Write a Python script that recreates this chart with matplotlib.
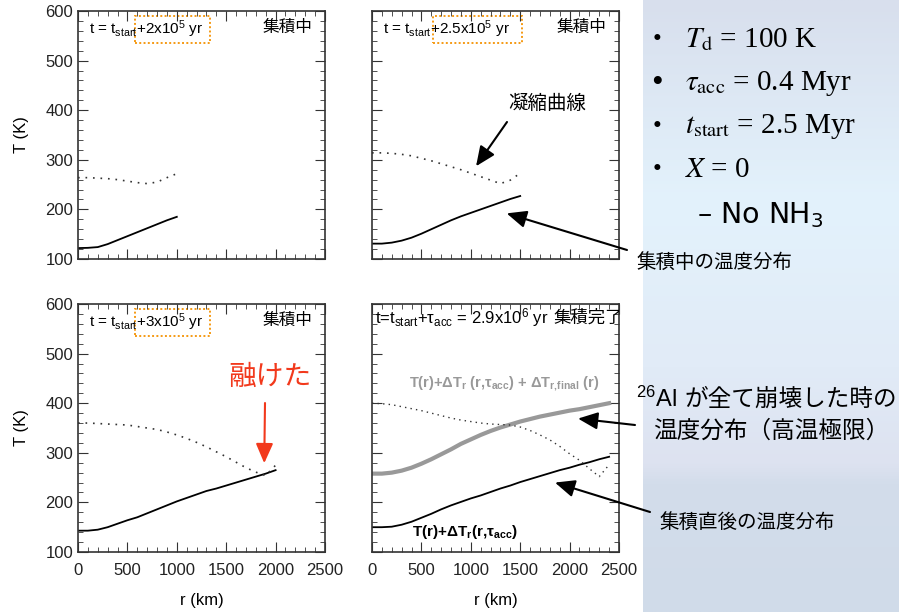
import numpy as np
import matplotlib
matplotlib.use('Agg')
import matplotlib.pyplot as plt
from matplotlib.colors import LinearSegmentedColormap
from matplotlib.patches import Rectangle
from matplotlib.ticker import MultipleLocator

plt.rcParams['font.family'] = ['Liberation Sans', 'Noto Sans CJK JP']
plt.rcParams['mathtext.fontset'] = 'custom'
plt.rcParams['mathtext.rm'] = 'Liberation Sans'
plt.rcParams['mathtext.it'] = 'Liberation Sans:italic'
plt.rcParams['mathtext.bf'] = 'Liberation Sans:bold'

W, H = 899, 612

# temperature profiles T(r) in K, radius in km
r_a = [0, 100, 200, 300, 400, 500, 600, 700, 800, 900, 1000]
temp_a = [122, 122.5, 124, 130, 138, 146, 154, 162, 170, 178, 185]
cond_a = [264, 264, 263, 262, 260, 257, 254, 252, 255, 264, 272]

r_b = [0, 100, 200, 300, 400, 500, 600, 700, 800, 900, 1000, 1100, 1200, 1300, 1400, 1500]
temp_b = [131, 131, 133, 137, 143, 151, 160, 169, 178, 186, 193, 200, 207, 214, 221, 227]
cond_b = [314, 314, 313, 311, 308, 303, 298, 292, 286, 280, 273, 266, 259, 252, 259, 273]

r_c = [0, 100, 200, 300, 400, 500, 600, 700, 800, 900, 1000, 1100, 1200, 1300, 1400,
       1500, 1600, 1700, 1800, 1900, 2000]
temp_c = [143, 143, 145, 150, 157, 164, 170, 178, 186, 194, 202, 209, 216, 223, 228,
          234, 240, 246, 252, 258, 265]
cond_c = [360, 360, 359, 358, 357, 356, 353, 350, 347, 342, 336, 329, 321, 312, 302,
          292, 281, 270, 261, 254, 275]

r_d = [0, 100, 200, 300, 400, 500, 600, 700, 800, 900, 1000, 1100, 1200, 1300, 1400,
       1500, 1600, 1700, 1800, 1900, 2000, 2100, 2200, 2300, 2400]
temp_d = [150, 150, 151, 155, 161, 169, 177, 186, 194, 201, 208, 214, 221, 228, 234,
          241, 247, 253, 259, 265, 270, 276, 281, 287, 292]
temp_d_final = [258, 258, 260, 264, 270, 278, 287, 297, 307, 318, 327, 336, 344, 351, 357,
                363, 368, 373, 377, 381, 385, 388, 392, 396, 400]
cond_d = [400, 399, 397, 393, 389, 385, 380, 375, 370, 366, 363, 360, 358, 357, 356,
          352, 345, 336, 326, 313, 298, 285, 268, 252, 276]

time_labels = [r't = t$_{\mathrm{start}}$+2x10$^5$ yr',
               r't = t$_{\mathrm{start}}$+2.5x10$^5$ yr',
               r't = t$_{\mathrm{start}}$+3x10$^5$ yr',
               r't=t$_{\mathrm{start}}$+τ$_{\mathrm{acc}}$ = 2.9x10$^6$ yr']


def fx(x):
    return x / W


def fy(y):
    return 1 - y / H


fig = plt.figure(figsize=(W / 100, H / 100), dpi=100)

# light blue backdrop on the right
bg = fig.add_axes([fx(643), 0, 1 - fx(643), 1], zorder=0)
grad_cmap = LinearSegmentedColormap.from_list('bg', [
    (0.0, '#d8dfed'), (0.33, '#e3f2fc'), (0.6, '#e1ebf7'), (0.76, '#dde2f0'),
    (0.79, '#d3ddeb'), (1.0, '#d0dbe9')])
bg.imshow(np.linspace(0, 1, 256)[:, None], aspect='auto', cmap=grad_cmap,
          extent=[0, 1, 1, 0])
bg.set_axis_off()


def make_axes(left, top):
    ax = fig.add_axes([fx(left), fy(top + 248), 247 / W, 248 / H], zorder=2)
    ax.set_xlim(0, 2500)
    ax.set_ylim(100, 600)
    ax.xaxis.set_major_locator(MultipleLocator(500))
    ax.xaxis.set_minor_locator(MultipleLocator(100))
    ax.yaxis.set_major_locator(MultipleLocator(100))
    ax.yaxis.set_minor_locator(MultipleLocator(20))
    ax.tick_params(which='both', direction='in', top=True, right=True,
                   labelsize=12, colors='#333333', labelcolor='#222222')
    ax.tick_params(which='major', length=7, width=0.8)
    ax.tick_params(which='minor', length=3.5, width=0.6)
    for s in ax.spines.values():
        s.set_linewidth(1.2)
        s.set_color('#333333')
    return ax


ax_a = make_axes(78, 11)
ax_b = make_axes(372, 11)
ax_c = make_axes(78, 304)
ax_d = make_axes(372, 304)

for ax in (ax_a, ax_b):
    ax.tick_params(labelbottom=False)
for ax in (ax_b, ax_d):
    ax.tick_params(labelleft=False)
for ax in (ax_a, ax_c):
    ax.set_ylabel('T (K)', fontsize=12, labelpad=12)
for ax in (ax_c, ax_d):
    ax.set_xlabel('r (km)', fontsize=12, labelpad=11)
    ax.tick_params(axis='x', pad=8)

dots = (0, (1, 3.5))
ax_a.plot(r_a, temp_a, color='k', lw=1.3)
ax_a.plot(r_a, cond_a, color='#333333', lw=1.2, linestyle=dots)
ax_b.plot(r_b, temp_b, color='k', lw=1.3)
ax_b.plot(r_b, cond_b, color='#333333', lw=1.2, linestyle=dots)
ax_c.plot(r_c, temp_c, color='k', lw=1.3)
ax_c.plot(r_c, cond_c, color='#333333', lw=1.2, linestyle=dots)
ax_d.plot(r_d, temp_d_final, color='#999999', lw=3)
ax_d.plot(r_d, temp_d, color='k', lw=1.3)
ax_d.plot(r_d, cond_d, color='#333333', lw=1.0, linestyle=(0, (1, 3)))

# time stamps and orange highlight boxes
for ax, lab in ((ax_a, time_labels[0]), (ax_b, time_labels[1]), (ax_c, time_labels[2])):
    ax.text(0.045, 0.925, lab, transform=ax.transAxes, fontsize=11,
            va='center', ha='left')
ax_d.text(0.012, 0.945, time_labels[3], transform=ax_d.transAxes, fontsize=12,
          va='center', ha='left')
ax_d.text((553 - 372) / 247, 0.945, '集積完了', transform=ax_d.transAxes, fontsize=12.5,
          va='center', ha='left', clip_on=True)
for ax, x0, x1 in ((ax_a, 0.23, 0.536), (ax_b, 0.247, 0.607), (ax_c, 0.23, 0.536)):
    ax.add_patch(Rectangle((x0, 0.87), x1 - x0, 0.11, transform=ax.transAxes,
                           fill=False, ec='#f59a14', lw=1.4, linestyle=(0, (1, 1.2))))
for ax in (ax_a, ax_b, ax_c):
    ax.text(0.95, 0.935, '集積中', transform=ax.transAxes, fontsize=12,
            ha='right', va='center')

ax_d.text(0.535, 0.68, r'T(r)+ΔT$_{\mathbf{r}}$ (r,τ$_{\mathbf{acc}}$) + ΔT$_{\mathbf{r,\!final}}$ (r)',
          transform=ax_d.transAxes, fontsize=10.5, fontweight='bold', color='#999999',
          ha='center', va='center')
ax_d.text(0.16, 0.08, r'T(r)+ΔT$_{\mathbf{r}}$(r,τ$_{\mathbf{acc}}$)',
          transform=ax_d.transAxes, fontsize=11, fontweight='bold', color='k',
          ha='left', va='center')

arrow = dict(arrowstyle='-|>,head_length=0.8,head_width=0.35', mutation_scale=15,
             lw=1.5, color='k', shrinkA=0, shrinkB=0)

fig.text(fx(508), fy(104), '凝縮曲線', fontsize=14, ha='left', va='center')
ax_b.annotate('', xy=(1053, 287), xytext=(fx(507), fy(122)),
              textcoords='figure fraction', arrowprops=arrow, annotation_clip=False)

fig.text(fx(637), fy(262), '集積中の温度分布', fontsize=14, ha='left', va='center', zorder=3)
ax_b.annotate('', xy=(1363, 192), xytext=(fx(627), fy(250)),
              textcoords='figure fraction', arrowprops=arrow, annotation_clip=False)

fig.text(fx(228), fy(378), '融けた', fontsize=20, color='#f2391c', ha='left', va='center',
         zorder=3)
red_arrow = dict(arrow, color='#f2391c')
ax_c.annotate('', xy=(1885, 279), xytext=(fx(265), fy(403)),
              textcoords='figure fraction', arrowprops=red_arrow, annotation_clip=False)

fig.text(fx(636), fy(399), r'$^{26}$Al', fontsize=17, ha='left', va='center', zorder=3)
fig.text(fx(684), fy(399), 'が全て崩壊した時の', fontsize=17, ha='left', va='center',
         zorder=3)
fig.text(fx(653), fy(431), '温度分布（高温極限）', fontsize=17, ha='left', va='center', zorder=3)
ax_d.annotate('', xy=(2085, 369), xytext=(fx(635), fy(425)),
              textcoords='figure fraction', arrowprops=arrow, annotation_clip=False)

fig.text(fx(660), fy(522), '集積直後の温度分布', fontsize=14, ha='left', va='center', zorder=3)
ax_d.annotate('', xy=(1852, 240), xytext=(fx(650), fy(512)),
              textcoords='figure fraction', arrowprops=arrow, annotation_clip=False)

# parameter list
params = [r'$T_{\mathrm{d}}$ = 100 K',
          r'$\tau_{\mathrm{acc}}$ = 0.4 Myr',
          r'$t_{\mathrm{start}}$ = 2.5 Myr',
          r'$X$ = 0']
for i, p in enumerate(params):
    yy = 40 + i * 43.3
    fig.text(fx(657), fy(yy), '•', fontsize=24 if i == 1 else 18,
             family='Liberation Serif', ha='center', va='center', zorder=3)
    fig.text(fx(685), fy(yy), p, fontsize=21, family='Liberation Serif',
             math_fontfamily='stix', ha='left', va='center', zorder=3)
fig.text(fx(697), fy(215), r'– No NH$_3$', fontsize=20.5, family='DejaVu Sans',
         math_fontfamily='dejavusans', ha='left', va='center', zorder=3)

fig.savefig('out.png', dpi=100)
